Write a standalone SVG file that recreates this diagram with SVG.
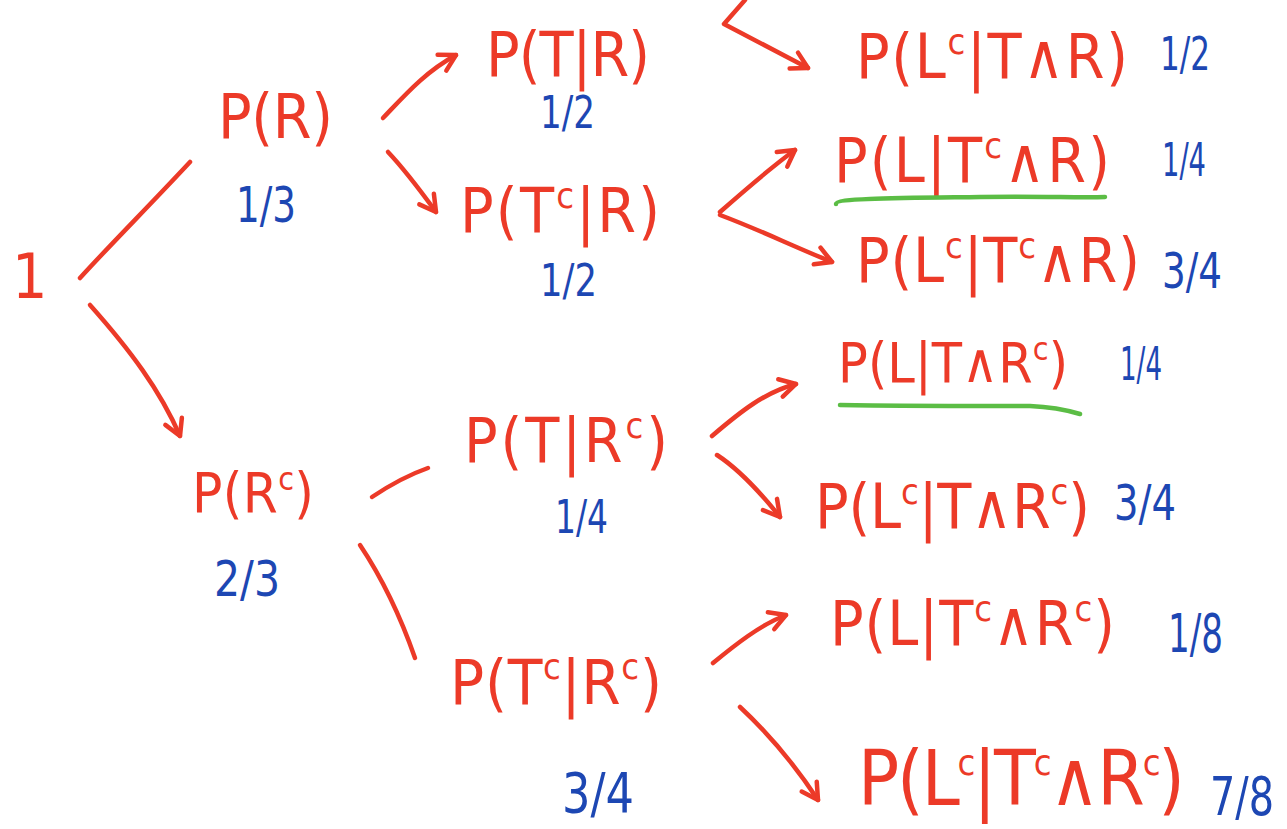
<svg xmlns="http://www.w3.org/2000/svg" width="1287" height="829" viewBox="0 0 1287 829">
  <style>
    .ev { font-family: "DejaVu Sans Condensed", "DejaVu Sans", sans-serif; font-size: 62px; fill: #ec3a28; }
    .pr { font-family: "DejaVu Sans Condensed", "DejaVu Sans", sans-serif; font-size: 50px; fill: #1d47b3; }
    .sup { font-size: 36px; }
    .edge { fill: none; stroke: #ec3a28; stroke-width: 4.5; stroke-linecap: round; stroke-linejoin: round; }
    .mark { fill: none; stroke: #5bbd45; stroke-width: 4.5; stroke-linecap: round; }
  </style>
  <defs>
    <marker id="head" viewBox="0 0 24 24" refX="20" refY="12" markerWidth="24" markerHeight="24" markerUnits="userSpaceOnUse" orient="auto" overflow="visible">
      <path d="M 4 3 L 20 12 L 4 21" fill="none" stroke="#ec3a28" stroke-width="4.5" stroke-linecap="round" stroke-linejoin="round"/>
    </marker>
  </defs>
  <rect width="1287" height="829" fill="#ffffff"/>

  <!-- branches of the tree -->
  <g id="connectors">
    <path class="edge" d="M 80 278 C 110 245 150 205 190 162"/>
    <path class="edge" marker-end="url(#head)" d="M 90 305 C 130 350 160 390 180 436"/>
    <path class="edge" marker-end="url(#head)" d="M 383 118 C 405 95 425 72 456 55"/>
    <path class="edge" marker-end="url(#head)" d="M 388 152 C 405 170 420 190 436 212"/>
    <path class="edge" d="M 372 497 C 390 485 408 475 428 468"/>
    <path class="edge" d="M 360 545 C 380 575 400 615 415 658"/>
    <path class="edge" marker-end="url(#head)" d="M 745 0 L 724 24 L 808 68"/>
    <path class="edge" marker-end="url(#head)" d="M 720 212 C 745 190 770 168 795 150"/>
    <path class="edge" marker-end="url(#head)" d="M 720 215 C 760 230 790 245 832 262"/>
    <path class="edge" marker-end="url(#head)" d="M 712 436 C 740 412 765 392 796 384"/>
    <path class="edge" marker-end="url(#head)" d="M 717 455 C 740 470 760 492 780 517"/>
    <path class="edge" marker-end="url(#head)" d="M 713 663 C 735 645 760 625 786 615"/>
    <path class="edge" marker-end="url(#head)" d="M 740 707 C 770 735 795 765 818 800"/>
  </g>

  <g id="root">
    <text class="ev" x="12" y="298">1</text>
  </g>

  <g id="node-r">
    <text class="ev" x="218" y="138" textLength="115" lengthAdjust="spacing">P(R)</text>
    <text class="pr" x="236" y="222" textLength="60" lengthAdjust="spacingAndGlyphs">1/3</text>
  </g>

  <g id="node-rc">
    <text class="ev" x="192" y="512" style="font-size:56px" textLength="122" lengthAdjust="spacing">P(R<tspan class="sup" dy="-22" style="font-size:32px">c</tspan><tspan dy="22">)</tspan></text>
    <text class="pr" x="214" y="596" textLength="66" lengthAdjust="spacingAndGlyphs">2/3</text>
  </g>

  <g id="node-t-r">
    <text class="ev" x="486" y="76" textLength="164" lengthAdjust="spacing">P(T|R)</text>
    <text class="pr" x="540" y="128" style="font-size:44px" textLength="55" lengthAdjust="spacingAndGlyphs">1/2</text>
  </g>

  <g id="node-tc-r">
    <text class="ev" x="460" y="232" textLength="200" lengthAdjust="spacing">P(T<tspan class="sup" dy="-24">c</tspan><tspan dy="24">|R)</tspan></text>
    <text class="pr" x="540" y="296" style="font-size:44px" textLength="57" lengthAdjust="spacingAndGlyphs">1/2</text>
  </g>

  <g id="node-t-rc">
    <text class="ev" x="464" y="462" textLength="204" lengthAdjust="spacing">P(T|R<tspan class="sup" dy="-24">c</tspan><tspan dy="24">)</tspan></text>
    <text class="pr" x="555" y="533" style="font-size:46px" textLength="53" lengthAdjust="spacingAndGlyphs">1/4</text>
  </g>

  <g id="node-tc-rc">
    <text class="ev" x="450" y="704" style="font-size:63px" textLength="212" lengthAdjust="spacing">P(T<tspan class="sup" dy="-25">c</tspan><tspan dy="25">|R</tspan><tspan class="sup" dy="-25">c</tspan><tspan dy="25">)</tspan></text>
    <text class="pr" x="562" y="812" style="font-size:56px" textLength="72" lengthAdjust="spacingAndGlyphs">3/4</text>
  </g>

  <g id="leaf-lc-t-r">
    <text class="ev" x="856" y="78" textLength="272" lengthAdjust="spacing">P(L<tspan class="sup" dy="-24">c</tspan><tspan dy="24">|T∧R)</tspan></text>
    <text class="pr" x="1160" y="70" style="font-size:46px" textLength="50" lengthAdjust="spacingAndGlyphs">1/2</text>
  </g>

  <g id="leaf-l-tc-r">
    <text class="ev" x="834" y="182" textLength="276" lengthAdjust="spacing">P(L|T<tspan class="sup" dy="-24">c</tspan><tspan dy="24">∧R)</tspan></text>
    <text class="pr" x="1162" y="176" style="font-size:46px" textLength="44" lengthAdjust="spacingAndGlyphs">1/4</text>
    <path class="mark" d="M 836 204 C 836 198 900 198 980 197 C 1040 196 1080 198 1105 197"/>
  </g>

  <g id="leaf-lc-tc-r">
    <text class="ev" x="856" y="282" textLength="284" lengthAdjust="spacing">P(L<tspan class="sup" dy="-24">c</tspan><tspan dy="24">|T</tspan><tspan class="sup" dy="-24">c</tspan><tspan dy="24">∧R)</tspan></text>
    <text class="pr" x="1162" y="288" textLength="60" lengthAdjust="spacingAndGlyphs">3/4</text>
  </g>

  <g id="leaf-l-t-rc">
    <text class="ev" x="838" y="382" style="font-size:55px" textLength="230" lengthAdjust="spacing">P(L|T∧R<tspan class="sup" dy="-22" style="font-size:32px">c</tspan><tspan dy="22">)</tspan></text>
    <text class="pr" x="1120" y="380" style="font-size:46px" textLength="42" lengthAdjust="spacingAndGlyphs">1/4</text>
    <path class="mark" d="M 840 405 C 900 406 980 406 1030 406 C 1055 407 1070 411 1080 414"/>
  </g>

  <g id="leaf-lc-t-rc">
    <text class="ev" x="815" y="528" textLength="275" lengthAdjust="spacing">P(L<tspan class="sup" dy="-24">c</tspan><tspan dy="24">|T∧R</tspan><tspan class="sup" dy="-24">c</tspan><tspan dy="24">)</tspan></text>
    <text class="pr" x="1114" y="520" textLength="62" lengthAdjust="spacingAndGlyphs">3/4</text>
  </g>

  <g id="leaf-l-tc-rc">
    <text class="ev" x="830" y="645" textLength="285" lengthAdjust="spacing">P(L|T<tspan class="sup" dy="-24">c</tspan><tspan dy="24">∧R</tspan><tspan class="sup" dy="-24">c</tspan><tspan dy="24">)</tspan></text>
    <text class="pr" x="1168" y="652" style="font-size:54px" textLength="55" lengthAdjust="spacingAndGlyphs">1/8</text>
  </g>

  <g id="leaf-lc-tc-rc">
    <text class="ev" x="858" y="805" style="font-size:76px" textLength="327" lengthAdjust="spacing">P(L<tspan class="sup" dy="-30">c</tspan><tspan dy="30">|T</tspan><tspan class="sup" dy="-30">c</tspan><tspan dy="30">∧R</tspan><tspan class="sup" dy="-30">c</tspan><tspan dy="30">)</tspan></text>
    <text class="pr" x="1210" y="815" style="font-size:54px" textLength="64" lengthAdjust="spacingAndGlyphs">7/8</text>
  </g>
</svg>
